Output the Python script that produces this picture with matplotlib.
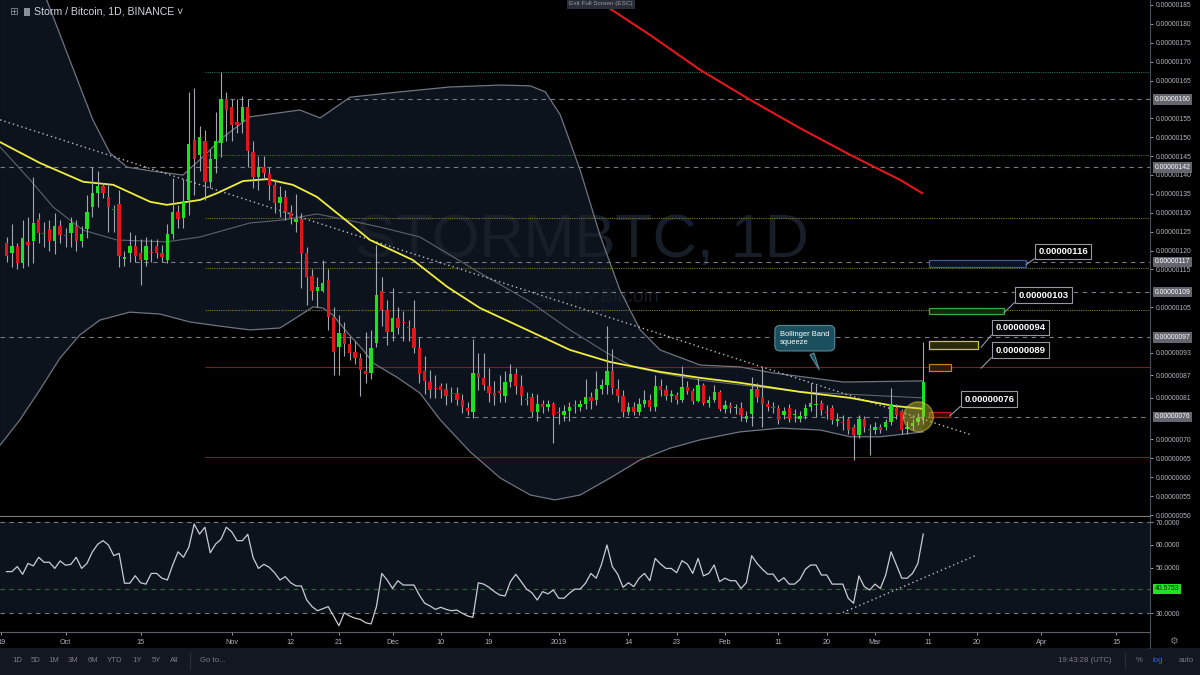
import numpy as np
import matplotlib
matplotlib.use("Agg")
import matplotlib.pyplot as plt
import matplotlib.transforms as mtransforms
from matplotlib.patches import Rectangle, Ellipse

plt.rcParams['font.family'] = ['Liberation Sans', 'DejaVu Sans']

# prices in units of 1e-8 BTC (satoshi); x in days since 2018-10-01
first_day = -11  # 2018-09-20
opens = [122.0, 119.3, 121.2, 116.7, 122.3, 122.5, 128.4, 124.6, 125.6, 122.5,
         126.6, 124.0, 124.6, 126.6, 122.5, 125.8, 131.5, 135.2, 137.1, 134.2,
         130.9, 132.3, 117.7, 119.3, 121.2, 119.3, 117.5, 119.6, 121.2, 119.3,
         117.5, 124.4, 130.2, 128.6, 133.4, 149.3, 145.3, 149.0, 138.2, 144.2,
         148.5, 160.1, 158.0, 154.0, 154.0, 158.0, 146.1, 139.5, 142.1, 140.3,
         137.4, 132.6, 134.2, 130.2, 127.5, 128.4, 119.3, 113.3, 109.3, 109.3,
         112.2, 102.4, 94.5, 98.2, 95.3, 93.2, 91.6, 88.1, 87.6, 95.5,
         109.3, 104.3, 98.5, 102.1, 101.1, 99.6, 99.5, 94.2, 88.1, 85.2,
         83.6, 84.1, 83.4, 82.1, 82.3, 80.4, 78.3, 77.3, 87.6, 86.3,
         84.1, 82.3, 82.6, 81.5, 85.2, 87.3, 84.1, 80.6, 81.2, 77.3,
         79.4, 78.5, 79.4, 77.1, 76.5, 77.5, 79.1, 78.6, 79.4, 81.2,
         80.4, 83.4, 84.4, 88.1, 83.4, 81.5, 77.3, 78.6, 77.3, 79.4,
         80.4, 78.6, 84.1, 83.0, 81.6, 81.7, 80.5, 84.0, 82.8, 80.2,
         84.4, 79.6, 80.4, 82.6, 78.0, 79.0, 78.3, 78.3, 75.5, 76.7,
         83.4, 81.2, 79.4, 78.6, 78.3, 76.5, 78.3, 76.4, 75.5, 76.3,
         78.5, 79.0, 79.6, 77.2, 78.3, 75.0, 74.6, 75.3, 73.3, 71.2,
         75.5, 72.6, 72.5, 73.3, 73.3, 74.6, 78.3, 77.5, 72.9, 73.5,
         74.6, 76.0]
highs = [123.5, 127.0, 122.0, 128.0, 129.0, 139.5, 130.0, 127.5, 128.0, 130.0,
         128.0, 126.0, 129.0, 128.0, 126.6, 134.7, 142.0, 141.0, 138.0, 138.0,
         132.0, 136.0, 120.0, 125.0, 124.0, 123.0, 123.7, 123.0, 123.0, 121.5,
         127.0, 139.2, 132.0, 139.0, 162.0, 163.0, 153.0, 152.0, 147.0, 156.7,
         167.3, 162.0, 160.0, 160.0, 161.0, 160.0, 149.0, 145.0, 145.0, 142.0,
         139.0, 137.0, 136.0, 132.0, 135.0, 130.0, 121.0, 115.0, 113.0, 117.6,
         115.0, 105.0, 103.0, 101.0, 97.0, 96.0, 93.0, 98.5, 99.0, 121.5,
         113.0, 107.0, 110.0, 105.0, 104.0, 101.5, 107.0, 97.0, 92.0, 88.5,
         87.0, 85.0, 85.0, 84.0, 84.0, 82.0, 80.0, 96.6, 93.0, 93.0,
         89.0, 85.5, 87.0, 88.0, 90.0, 89.0, 87.0, 82.5, 82.3, 82.0,
         80.5, 80.5, 80.0, 78.5, 79.0, 80.0, 80.5, 80.5, 86.0, 82.5,
         88.0, 86.0, 100.0, 94.0, 86.0, 83.0, 80.0, 80.0, 81.0, 83.0,
         82.0, 87.0, 86.0, 84.5, 83.0, 82.5, 89.5, 85.5, 83.5, 86.5,
         85.0, 81.5, 84.5, 83.0, 80.5, 79.8, 79.5, 80.0, 77.5, 86.5,
         85.0, 89.2, 80.5, 80.0, 79.0, 78.5, 79.5, 78.0, 77.5, 79.5,
         85.0, 84.5, 80.5, 79.0, 79.0, 77.0, 76.5, 76.0, 74.0, 76.5,
         76.3, 74.0, 74.5, 74.0, 75.5, 83.6, 79.5, 78.0, 75.0, 75.5,
         77.0, 95.8]
lows = [117.0, 115.6, 115.0, 115.5, 116.0, 116.7, 122.0, 121.0, 120.0, 119.0,
        122.0, 121.0, 121.0, 120.0, 121.0, 123.3, 129.0, 131.5, 134.0, 125.0,
        125.0, 115.6, 116.0, 117.0, 117.0, 111.0, 116.0, 117.0, 118.0, 117.0,
        116.7, 123.0, 126.0, 126.0, 129.4, 134.7, 141.0, 133.4, 136.5, 140.5,
        144.8, 149.0, 149.0, 151.0, 151.0, 142.0, 136.5, 136.0, 139.0, 133.4,
        130.0, 129.0, 128.0, 127.0, 125.0, 110.0, 105.6, 107.0, 105.0, 109.0,
        99.0, 87.0, 87.0, 92.0, 91.0, 90.0, 81.5, 85.0, 86.0, 94.5,
        100.0, 95.0, 96.0, 98.0, 96.0, 96.0, 93.0, 85.0, 82.0, 81.0,
        81.0, 81.0, 79.0, 80.0, 79.0, 77.0, 76.5, 75.7, 83.0, 83.0,
        80.0, 79.0, 80.0, 80.0, 84.0, 82.0, 79.0, 79.0, 76.0, 75.0,
        77.0, 77.5, 69.0, 74.0, 75.0, 75.0, 77.0, 77.5, 78.0, 78.0,
        79.0, 82.0, 82.0, 82.0, 80.0, 76.0, 76.5, 76.5, 76.5, 78.5,
        77.5, 77.5, 81.5, 80.5, 80.0, 79.5, 80.0, 82.0, 79.5, 79.8,
        79.0, 78.5, 80.0, 77.5, 77.0, 77.0, 76.8, 75.0, 74.5, 73.6,
        80.0, 73.3, 77.5, 77.0, 74.0, 75.5, 74.5, 74.5, 74.5, 75.5,
        77.5, 76.0, 76.5, 75.5, 74.0, 73.5, 72.5, 71.5, 64.6, 70.5,
        72.0, 66.0, 71.5, 71.8, 72.5, 73.8, 75.5, 71.5, 71.5, 72.5,
        73.8, 74.0]
closes = [118.6, 121.2, 116.7, 123.3, 121.5, 127.3, 124.6, 124.3, 122.5, 126.4,
          124.1, 123.8, 127.3, 122.5, 124.4, 130.2, 135.2, 137.1, 135.2, 131.5,
          130.7, 118.6, 118.3, 121.2, 118.6, 117.5, 121.2, 119.4, 119.3, 118.3,
          124.4, 130.2, 128.4, 133.1, 148.2, 144.2, 150.1, 138.2, 144.2, 149.0,
          160.1, 157.2, 153.2, 153.2, 158.0, 146.4, 139.5, 142.1, 140.5, 137.4,
          132.6, 134.2, 130.2, 128.6, 128.4, 119.3, 113.0, 109.3, 110.4, 111.4,
          102.4, 93.2, 98.2, 95.3, 92.9, 91.6, 88.4, 87.3, 94.2, 108.2,
          104.3, 98.5, 102.1, 99.5, 100.9, 99.4, 94.2, 87.3, 85.5, 83.1,
          83.4, 83.1, 81.5, 81.9, 80.4, 78.6, 77.5, 87.6, 86.5, 84.4,
          82.3, 81.5, 82.4, 85.2, 87.3, 84.1, 81.5, 80.4, 77.3, 79.4,
          78.6, 79.4, 76.5, 76.9, 77.5, 78.6, 78.9, 79.4, 81.2, 80.2,
          83.4, 84.4, 88.1, 83.6, 81.5, 77.3, 78.6, 77.3, 79.4, 80.4,
          78.6, 84.1, 83.0, 81.6, 81.7, 80.5, 84.0, 82.8, 80.2, 84.4,
          79.6, 80.4, 82.6, 78.0, 79.0, 78.3, 78.3, 76.5, 76.3, 83.4,
          81.2, 79.4, 78.6, 78.4, 75.2, 77.5, 75.5, 76.6, 76.3, 78.3,
          79.6, 79.2, 77.8, 77.0, 75.2, 75.2, 74.4, 72.5, 71.2, 75.5,
          73.3, 72.4, 73.3, 72.5, 74.6, 79.4, 76.5, 72.5, 73.1, 74.4,
          75.8, 85.2]

rsi = [48.2, 48.2, 50.4, 47.0, 51.8, 50.7, 54.5, 52.3, 52.3, 49.6,
       52.9, 51.0, 51.4, 54.5, 49.6, 51.8, 56.8, 60.2, 61.8, 59.9,
       55.2, 56.2, 43.1, 43.1, 46.4, 43.3, 42.7, 47.4, 47.4, 45.3,
       44.5, 51.1, 56.9, 54.5, 58.9, 69.1, 64.7, 67.7, 56.5, 60.3,
       62.4, 67.7, 65.7, 61.8, 61.8, 64.6, 54.3, 49.6, 51.4, 50.1,
       47.7, 44.5, 46.0, 43.3, 41.9, 41.9, 35.7, 32.8, 31.0, 31.9,
       32.8, 28.7, 24.4, 30.1, 28.7, 27.7, 27.2, 25.7, 25.2, 32.8,
       47.4, 44.5, 40.8, 44.2, 42.3, 42.3, 42.3, 37.9, 34.3, 33.1,
       31.6, 32.5, 31.6, 31.0, 31.3, 29.9, 28.7, 28.1, 43.3, 42.7,
       41.3, 39.4, 37.9, 37.5, 43.8, 47.0, 43.8, 40.5, 38.9, 35.7,
       39.4, 38.4, 40.1, 36.5, 36.5, 38.7, 40.5, 40.5, 43.1, 47.4,
       45.3, 51.5, 59.9, 50.4, 47.1, 41.3, 43.3, 41.6, 45.3, 47.4,
       44.2, 54.0, 51.5, 49.6, 49.6, 47.7, 53.0, 51.5, 47.4, 54.0,
       46.3, 47.4, 51.1, 43.8, 45.3, 44.2, 44.2, 40.8, 43.3, 55.2,
       51.8, 49.2, 47.1, 47.1, 43.8, 45.5, 42.7, 42.7, 44.8, 49.2,
       51.1, 51.1, 46.7, 46.7, 42.7, 42.7, 42.7, 36.5, 34.3, 46.3,
       41.6, 40.1, 42.7, 40.8, 46.7, 56.9, 51.1, 45.3, 45.3, 47.4,
       51.8, 64.7]

# indicator lines (day, price)
upper_days = [-12.2, -3.5, 0.8, 5.1, 8.3, 11.5, 15.8, 21.9, 26.0, 29.2, 34.4, 43.7, 47.5,
              53.1, 62.4, 71.7, 81.1, 86.7, 89.5, 92.3, 96.0, 99.7, 103.4, 107.2, 110.9,
              118.4, 125.8, 132.0, 145.1, 160.0]
upper_vals = [218.6, 186.3, 170.4, 154.6, 145.8, 142.1, 141.1, 140.0, 145.3, 149.8, 155.4,
              157.2, 155.1, 160.6, 162.0, 163.3, 163.8, 163.6, 162.0, 155.9, 141.3, 124.1,
              109.6, 99.0, 93.7, 89.7, 89.2, 87.6, 85.2, 85.5]
lower_days = [-12.2, -8.5, -4.8, -1.0, 2.7, 6.4, 12.0, 17.6, 23.2, 28.8, 34.4, 40.0, 43.8,
              46.2, 48.0, 49.9, 52.5, 55.5, 57.4, 61.8, 66.1, 69.9, 75.5, 81.1, 86.7, 91.3,
              96.0, 101.6, 107.2, 112.8, 118.4, 125.8, 133.3, 140.8, 146.4, 152.0, 160.0]
lower_vals = [68.5, 75.2, 83.1, 91.6, 97.7, 101.6, 103.7, 103.2, 101.1, 100.0, 99.0, 99.5,
              102.9, 105.1, 104.8, 102.9, 98.4, 93.7, 90.2, 86.5, 82.3, 75.2, 66.7, 59.8,
              55.3, 54.0, 55.3, 59.8, 64.6, 67.7, 69.9, 72.0, 73.0, 72.5, 70.7, 70.7, 72.0]
basis_days = [-12.2, -6.6, -2.3, 3.3, 9.6, 18.9, 25.1, 34.4, 40.6, 46.9, 52.5, 58.7, 66.1,
              77.3, 86.7, 94.1, 101.0, 105.9, 110.9, 118.4, 137.0, 160.0]
basis_vals = [147.4, 138.7, 131.5, 125.4, 122.8, 122.3, 123.6, 127.3, 128.1, 129.7, 128.1,
              126.2, 123.6, 114.1, 106.4, 99.0, 92.9, 89.2, 87.6, 85.7, 82.6, 81.0]
ma_days = [-12.2, -4.8, 3.3, 8.9, 15.8, 18.9, 25.1, 28.3, 33.1, 37.6, 42.4, 46.9, 51.8, 56.8,
           64.8, 71.2, 77.3, 86.1, 94.1, 101.6, 110.9, 118.4, 125.8, 137.0, 146.4, 154.4, 160.0]
ma_vals = [148.7, 143.2, 138.2, 137.4, 132.9, 132.1, 133.4, 135.2, 138.4, 138.9, 137.4, 134.2,
           128.6, 122.8, 117.5, 110.4, 104.8, 99.0, 93.7, 90.5, 87.9, 86.3, 85.0, 82.6, 81.0,
           78.9, 78.1]
ma200_days = [97.3, 109.0, 118.4, 127.7, 137.0, 146.4, 155.7, 159.8]
ma200_vals = [188.0, 177.1, 167.8, 159.9, 152.4, 145.3, 138.7, 135.2]
trend_days = [-12.2, 169.0]
trend_vals = [154.6, 71.2]
rsi_trend_days = [145.0, 169.7]
rsi_trend_vals = [30.2, 55.2]

# drawn levels
line_levels = [160, 142, 117, 109, 97, 76]
line_starts = [30.7, -12.2, 13.0, 58.7, -12.2, 74.5]
fib_levels = [167.3, 145.3, 128.6, 115.5, 104.3, 89.2, 65.3]
fib_colors = ['#2a6b60', '#3c6e2c', '#77772a', '#77772a', '#7d7a2c', '#7a1f1f', '#7a1f1f']
fib_start = 26.0
target_prices = [116, 103, 94, 89, 76]
target_boxes = [(161.1, 179.2, 115.6, 117.4, '#3d5a99', '#0b1322'),
                (161.1, 175.1, 103.2, 104.8, '#32b032', '#0f2a0f'),
                (161.1, 170.3, 93.9, 96.1, '#c9c930', '#2a2a0c'),
                (161.1, 165.2, 88.1, 90.0, '#d07a20', '#2e1a08'),
                (161.1, 165.0, 76.0, 77.3, '#c01818', '#3a0808')]

price_ticks = [185, 180, 175, 170, 165, 155, 150, 145, 140, 135, 130, 125, 120, 115,
               105, 93, 87, 81, 70, 65, 60, 55, 50]
date_ticks = [-12, 0, 14, 31, 42, 51, 61, 70, 79, 92, 105, 114, 123, 133, 142, 151, 161, 170, 182, 196]
date_labels = ['19', 'Oct', '15', 'Nov', '12', '21', 'Dec', '10', '19', '2019', '14', '23',
               'Feb', '11', '20', 'Mar', '11', '20', 'Apr', '15']
rsi_ticks = [70, 60, 50, 30]
rsi_level = 40.5753

W, H = 1200, 675
NAVY = '#0d131c'
GRID = '#787b86'
LABEL = '#b2b5be'

fig = plt.figure(figsize=(12, 6.75), dpi=100, facecolor='black')
ax = fig.add_axes([0, 1 - 516 / H, 1150 / W, 516 / H], facecolor='black')
rax = fig.add_axes([0, 1 - 632 / H, 1150 / W, 115 / H], facecolor='black')
xl = (-12.22, 202.3)

days = np.arange(first_day, first_day + len(closes))
o = np.array(opens); c = np.array(closes)
h = np.array(highs); l = np.array(lows)

# band background
ax.fill(np.r_[upper_days, lower_days[::-1]], np.r_[upper_vals, lower_vals[::-1]],
        color=NAVY, lw=0, zorder=0)
ax.text(96.4, 122.5, 'STORMBTC, 1D', fontsize=44, color='#181e28', ha='center',
        va='center', zorder=0.5)
ax.text(98.8, 107.5, 'Storm / Bitcoin', fontsize=14, color='#161c25', ha='center',
        va='center', zorder=0.5)

for lv, st in zip(line_levels, line_starts):
    ax.hlines(lv, st, xl[1], colors=GRID, lw=0.8, linestyles=(0, (4, 4)), zorder=1)
for lv, col in zip(fib_levels, fib_colors):
    ax.hlines(lv, fib_start, xl[1], colors=col, lw=0.8,
              linestyles=(0, (1, 1)) if col != '#7a1f1f' else '-', zorder=1)

ax.plot(upper_days, upper_vals, color='#6f7480', lw=0.9, zorder=2)
ax.plot(lower_days, lower_vals, color='#6f7480', lw=0.9, zorder=2)
ax.plot(basis_days, basis_vals, color='#5d626d', lw=0.8, zorder=2)
ax.plot(trend_days, trend_vals, color='#b8bcc4', lw=1, ls=(0, (1, 2.2)), zorder=2)
ax.plot(ma200_days, ma200_vals, color='#e3171c', lw=1.5, zorder=2)
ax.plot(ma_days, ma_vals, color='#f0ef3c', lw=1.3, zorder=3)

# candles
up = c >= o
body_lo = np.minimum(o, c)
body_h = np.maximum(np.abs(c - o), 0.3)
ax.vlines(days, l, h, colors='#a2a6ae', lw=0.8, zorder=4)
ax.bar(days[up], body_h[up], bottom=body_lo[up], width=0.62, color='#1de31d', lw=0, zorder=5)
ax.bar(days[~up], body_h[~up], bottom=body_lo[~up], width=0.62, color='#e3141b', lw=0, zorder=5)

# target boxes and callouts
for (x0, x1, y0, y1, ec, fc) in target_boxes:
    ax.add_patch(Rectangle((x0, y0), x1 - x0, y1 - y0, fc=fc, ec=ec, lw=0.9, zorder=6))
call_pos = [(186.1, 119.8), (182.4, 108.2), (178.1, 99.6), (178.1, 93.6), (172.3, 80.7)]
tips = [(179.2, 116.3), (175.1, 103.6), (170.8, 94.4), (170.8, 88.9), (165.0, 76.3)]
for val, pos, tip in zip(target_prices, call_pos, tips):
    ax.plot([tip[0], pos[0] - 5.4], [tip[1], pos[1] - 2.0], color='#9598a1', lw=0.8, zorder=6)
    ax.text(pos[0], pos[1], f'{val * 1e-8:.8f}', fontsize=6.8, fontweight='bold',
            color='white', ha='center', va='center', zorder=7,
            bbox=dict(boxstyle='square,pad=0.35', fc='black', ec='#9598a1', lw=0.8))
ax.add_patch(Ellipse((159.1, 76.0), 5.6, 7.9, fc='#c8c42a', alpha=0.45, ec='#e5e040',
                     lw=1.0, zorder=6))

ax.annotate('Bollinger Band\nsqueeze', xy=(140.8, 87.8), xytext=(133.3, 96.8),
            fontsize=5.4, color='white', ha='left', va='center', zorder=7,
            bbox=dict(boxstyle='round,pad=0.7', fc='#1b4f5e', ec='#5a8796', lw=0.8),
            arrowprops=dict(arrowstyle='wedge,tail_width=0.6,shrink_factor=0.5',
                            fc='#1b4f5e', ec='#5a8796', lw=0.8))

ax.set_xlim(*xl)
ax.set_ylim(49.74, 186.32)
ax.set_xticks([])
ax.yaxis.tick_right()
ax.set_yticks(price_ticks)
ax.set_yticklabels([f'{v * 1e-8:.8f}' for v in price_ticks])
ax.tick_params(axis='y', colors=LABEL, labelsize=4.9, length=2, pad=2, width=0.6)
for s in ['top', 'left']:
    ax.spines[s].set_visible(False)
ax.spines['right'].set_color('#4a4e59')
ax.spines['bottom'].set_color('#7b7f89')

tr = mtransforms.blended_transform_factory(ax.transAxes, ax.transData)
for lv in line_levels:
    ax.text(1.004, lv, f'{lv * 1e-8:.8f}', transform=tr, fontsize=4.9, color='white',
            ha='left', va='center', zorder=8, clip_on=False,
            bbox=dict(boxstyle='square,pad=0.25', fc='#63666f', ec='none'))

# RSI panel
rax.axhspan(30, 70, color=NAVY, lw=0, zorder=0)
rax.axhline(70, color=GRID, lw=0.8, ls=(0, (4, 4)))
rax.axhline(30, color=GRID, lw=0.8, ls=(0, (4, 4)))
rax.axhline(rsi_level, color='#2f6b33', lw=0.8, ls=(0, (4, 4)))
rax.plot(days, rsi, color='#c9ccd3', lw=0.9, zorder=3)
rax.plot(rsi_trend_days, rsi_trend_vals, color='#b8bcc4', lw=1, ls=(0, (1, 2.2)), zorder=3)
rax.set_xlim(*xl)
rax.set_ylim(21.65, 72.2)
rax.yaxis.tick_right()
rax.set_yticks(rsi_ticks)
rax.set_yticklabels([f'{v:.4f}' for v in rsi_ticks])
rax.tick_params(axis='y', colors=LABEL, labelsize=4.9, length=2, pad=2, width=0.6)
rax.set_xticks(date_ticks)
rax.set_xticklabels(date_labels)
rax.tick_params(axis='x', colors=LABEL, labelsize=5.2, length=2, pad=3, width=0.6)
rax.spines['left'].set_visible(False)
rax.spines['top'].set_visible(False)
rax.spines['right'].set_color('#4a4e59')
rax.spines['bottom'].set_color('#5d606b')
rtr = mtransforms.blended_transform_factory(rax.transAxes, rax.transData)
rax.text(1.004, rsi_level, f'{rsi_level:.4f}', transform=rtr, fontsize=4.9, color='#0b2a0b',
         ha='left', va='center', clip_on=False,
         bbox=dict(boxstyle='square,pad=0.25', fc='#22e022', ec='none'))

# chrome: title, toolbar
fig.text(13 / W, 1 - 12 / H, '\u229e', fontsize=7.5, color='#8a8e98', ha='center', va='center')
fig.add_artist(Rectangle((24 / W, 1 - 16 / H), 6 / W, 8 / H, transform=fig.transFigure,
                         fc='#8a8e98', ec='none'))
fig.text(34 / W, 1 - 12 / H, 'Storm / Bitcoin, 1D, BINANCE \u02c5', fontsize=7.6,
         color='#d1d4dc', ha='left', va='center')
fig.text(601 / W, 1 - 4 / H, 'Exit Full Screen (ESC)', fontsize=4.6, color='#9598a1',
         ha='center', va='center', bbox=dict(boxstyle='square,pad=0.35', fc='#2a2e39', ec='none'))

fig.add_artist(Rectangle((0, 0), 1, 27 / H, transform=fig.transFigure, fc='#131722', ec='none'))
fig.add_artist(plt.Line2D([1150 / W, 1150 / W], [27 / H, 1 - 632 / H],
                          transform=fig.transFigure, color='#4a4e59', lw=0.8))
tool_items = ['1D', '5D', '1M', '3M', '6M', 'YTD', '1Y', '5Y', 'All']
tool_x = [17, 36, 54, 73, 93, 115, 137, 156, 174]
for t, xp in zip(tool_items, tool_x):
    fig.text(xp / W, 14 / H, t, fontsize=5.6, color='#787b86', ha='center', va='center')
fig.add_artist(plt.Line2D([190 / W, 190 / W], [6 / H, 22 / H], transform=fig.transFigure,
                          color='#2a2e39', lw=0.8))
fig.text(200 / W, 14 / H, 'Go to...', fontsize=5.6, color='#787b86', ha='left', va='center')
fig.text(1085 / W, 14 / H, '19:43:28 (UTC)', fontsize=5.6, color='#787b86', ha='center', va='center')
fig.add_artist(plt.Line2D([1125 / W, 1125 / W], [6 / H, 22 / H], transform=fig.transFigure,
                          color='#2a2e39', lw=0.8))
fig.text(1139 / W, 14 / H, '%', fontsize=5.6, color='#787b86', ha='center', va='center')
fig.text(1158 / W, 14 / H, 'log', fontsize=5.6, color='#2962ff', ha='center', va='center')
fig.text(1186 / W, 14 / H, 'auto', fontsize=5.6, color='#787b86', ha='center', va='center')
fig.text(1173 / W, 1 - 641 / H, '\u2699', fontsize=7, color='#787b86', ha='center', va='center')

fig.savefig('out.png', dpi=100, facecolor='black')
